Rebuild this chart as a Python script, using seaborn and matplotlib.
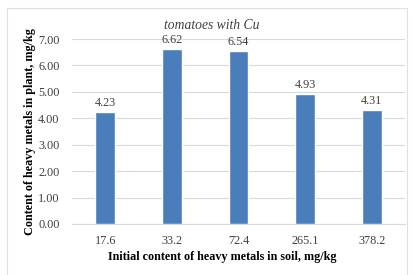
import matplotlib
matplotlib.use("Agg")
import matplotlib.pyplot as plt
import seaborn as sns
import pandas as pd
from matplotlib.patches import Rectangle

categories = ["17.6", "33.2", "72.4", "265.1", "378.2"]
values = [4.23, 6.62, 6.54, 4.93, 4.31]
yticks = [0, 1, 2, 3, 4, 5, 6, 7]

sns.set_theme(style="white")
plt.rcParams['font.family'] = ['Liberation Serif', 'DejaVu Serif']

W, H = 414, 275
fig = plt.figure(figsize=(W / 100, H / 100), dpi=100)
ax = fig.add_axes([72 / W, 1 - 224 / H, (405 - 72) / W, (224 - 39) / H])

df = pd.DataFrame({"soil": categories, "plant": values})
sns.barplot(data=df, x="soil", y="plant", color="#4a7ebb", saturation=1,
            width=0.3, ax=ax, zorder=3)

ax.set_ylim(0, 7)
ax.set_xlim(-0.5, len(categories) - 0.5)
ax.set_yticks(yticks)
ax.set_yticklabels([f"{v:.2f}" for v in yticks], fontsize=8.8, color="#404040")
ax.set_xticklabels(categories, fontsize=8.8, color="#404040")
ax.tick_params(axis="x", length=0, pad=8)
ax.tick_params(axis="y", length=0, pad=9)
ax.grid(axis="y", color="#d9d9d9", linewidth=0.8, zorder=0)
for s in ["top", "right", "left"]:
    ax.spines[s].set_visible(False)
ax.spines["bottom"].set_color("#d9d9d9")
ax.spines["bottom"].set_linewidth(0.8)

for i, v in enumerate(values):
    ax.text(i, v + 0.12, f"{v:.2f}", ha="center", va="bottom", fontsize=8.8,
            color="#404040")

ax.set_xlabel("Initial content of heavy metals in soil, mg/kg", fontsize=8.7,
              fontweight="bold", color="black", labelpad=3, x=0.452)
ax.set_ylabel("Content of heavy metals in plant, mg/kg", fontsize=8.7,
              fontweight="bold", color="black", labelpad=1.5)
ax.set_title("tomatoes with Cu", fontsize=9.8, fontstyle="italic",
             fontfamily="Liberation Serif", color="#404040", pad=7, x=0.42)

fig.patches.append(Rectangle((7 / W, -0.01), (407 - 7) / W, 1 - 8 / H + 0.01,
                             transform=fig.transFigure, fill=False,
                             edgecolor="#e0e0e0", linewidth=0.8))

fig.savefig("out.png", dpi=100)
